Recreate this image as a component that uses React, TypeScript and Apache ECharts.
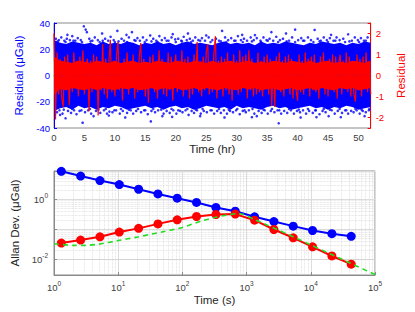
import React, { useEffect, useRef } from "react";
import * as echarts from "echarts";

// ---------- Top panel: residual time series ----------
const redStepHr = 0.25;
const redResidual = [
  2.0, -2.1, 1.1, -0.9, 0.8, -1.0, -1.5, 0.9,
  -0.7, 1.0, -1.4, 0.6, -0.8, 1.1, -0.5, 0.7,
  -1.0, 0.9, -0.6, 1.2, -0.9, 0.5, 0.8, -1.7,
  0.7, -0.8, 1.0, -0.6, 0.9, -1.9, 0.6, -0.7,
  1.5, -0.9, 0.8, -1.1, 0.6, 1.7, -0.8, 0.7,
  -1.0, 0.9, 1.6, -0.7, 0.5, -1.2, 0.8, -0.6,
  1.1, -0.9, 0.7, -0.5, 1.0, -1.1, 0.6, -0.8,
  0.9, 1.55, -0.7, 0.8, -1.0, 0.6, -1.3, 0.9,
  -0.6, 1.0, -0.8, 0.7, -1.1, 1.2, -0.5, 0.8,
  -0.9, 0.6, -1.0, 1.1, -0.7, 0.9, -1.2, 0.5,
  1.0, -0.8, 0.7, -0.6, 1.2, -1.0, 0.8, -0.7,
  0.9, -1.1, 0.6, -0.9, 1.0, -0.6, 1.6, -0.8,
  0.7, -1.0, 0.9, -0.7, 1.1, 1.5, -0.9, 0.6,
  -0.8, 1.0, 1.87, -1.1, 0.7, -0.6, 0.9, -1.0,
  0.8, -0.7, 1.1, -0.9, 0.6, -1.2, 1.0, -0.5,
  0.7, -0.9, 1.2, -0.8, 0.9, -0.6, 1.0, -1.1,
  1.2, -0.7, 0.8, -1.0, 0.6, -0.9, 1.1, -0.8,
  0.7, -1.0, 0.9, -0.6, 1.0, -0.9, 0.8, -1.45,
  0.6, -1.5, 0.9, -0.7, 1.1, -0.8, 0.7, -1.0,
  0.9, -0.6, 1.0, -0.9, 0.8, -1.1, 0.6, -0.7,
  -1.2, 1.0, -0.8, 0.7, -0.9, 1.1, -0.6, 0.8,
  -1.0, 0.9, -0.7, 1.0, -0.8, 0.6, -1.1, 0.9,
  -0.6, 1.1, -0.9, 0.7, -1.0, 0.8, -0.7, 1.0,
  -0.8, 0.9, -1.1, 0.6, 1.0, -0.9, 0.7, -0.6,
  1.1, -0.8, 0.9, -1.0, 0.7, -0.9, -1.25, 1.0,
  -0.7, 0.8, -1.0, 0.9, -0.6, 1.1, -0.8, 0.7,
  -0.9,
];
// dense red core envelope, one value per hour (0..52)
const redCoreUpper = [
  0.9, 0.7, 0.65, 0.6, 0.7, 0.65, 0.6, 0.7, 0.65, 0.6,
  0.7, 0.6, 0.65, 0.7, 0.6, 0.65, 0.6, 0.7, 0.65, 0.6,
  0.7, 0.65, 0.6, 0.7, 0.65, 0.6, 0.7, 0.6, 0.65, 0.7,
  0.6, 0.65, 0.7, 0.6, 0.65, 0.6, 0.7, 0.65, 0.6, 0.7,
  0.65, 0.6, 0.7, 0.6, 0.65, 0.7, 0.6, 0.65, 0.6, 0.7,
  0.65, 0.6, 0.7,
];
const redCoreLower = [
  -0.9, -0.65, -0.7, -0.6, -0.65, -0.7, -0.6, -0.7, -0.6, -0.65,
  -0.7, -0.6, -0.65, -0.6, -0.7, -0.65, -0.6, -0.7, -0.6, -0.65,
  -0.6, -0.7, -0.65, -0.6, -0.7, -0.6, -0.65, -0.7, -0.6, -0.65,
  -0.7, -0.6, -0.65, -0.6, -0.7, -0.65, -0.6, -0.7, -0.65, -0.6,
  -0.7, -0.65, -0.6, -0.7, -0.6, -0.65, -0.7, -0.6, -0.65, -0.6,
  -0.7, -0.65, -0.6,
];

// dense blue core envelope, one value per hour (0..52)
const blueUpper = [
  27, 25, 24, 26, 25, 24, 25, 23, 26, 24,
  25, 24, 26, 25, 23, 25, 24, 26, 24, 25,
  23, 25, 26, 24, 25, 24, 23, 25, 26, 24,
  25, 24, 25, 23, 26, 24, 25, 24, 26, 25,
  24, 23, 25, 24, 26, 25, 24, 25, 23, 25,
  24, 26, 25,
];
const blueLower = [
  -27, -25, -24, -26, -23, -25, -24, -26, -24, -25,
  -23, -24, -26, -25, -24, -23, -25, -24, -26, -24,
  -23, -25, -24, -26, -25, -23, -24, -25, -24, -26,
  -23, -25, -24, -25, -26, -24, -23, -25, -24, -26,
  -25, -24, -23, -25, -24, -26, -24, -25, -23, -24,
  -26, -25, -24,
];

// scattered blue points around the core [hr, µGal]
const blueFringe: [number, number][] = [
  [0.3, 28], [0.8, 27], [1.2, 29], [1.7, 26.5], [2.1, 28], [2.6, 27], [3.0, 30], [3.5, 26.5], [3.9, 28.5], [4.4, 27],
  [5.8, 28], [6.3, 26.5], [6.7, 29], [7.2, 27], [8.4, 28], [8.9, 26.5], [9.3, 29.5], [9.8, 27], [11.1, 28], [11.5, 26.5],
  [12.3, 29], [13.2, 27], [13.7, 28.5], [14.1, 26.5], [14.6, 29], [15.2, 27], [16.3, 28], [16.8, 26.5], [17.3, 30], [17.7, 27],
  [18.2, 28.5], [18.8, 26.5], [19.3, 29], [19.9, 27.5], [20.4, 28], [20.9, 26.5], [21.3, 29.5], [21.8, 27], [22.3, 28], [22.8, 26.5],
  [23.2, 29], [23.7, 27], [24.3, 28.5], [24.8, 26.5], [25.4, 29], [26.0, 27], [26.6, 28], [27.1, 26.5], [28.1, 29], [28.6, 27],
  [29.1, 28.5], [29.6, 26.5], [30.2, 30], [30.7, 27], [31.2, 28], [31.7, 26.5], [32.3, 29], [32.8, 27], [33.3, 28.5], [33.9, 26.5],
  [34.4, 29], [34.9, 27], [35.4, 28], [36.0, 26.5], [36.5, 29.5], [37.1, 27], [37.6, 28], [38.6, 26.5], [39.1, 29], [40.1, 27],
  [40.6, 28.5], [41.1, 26.5], [41.7, 29], [42.2, 27], [43.3, 28], [43.8, 26.5], [44.3, 29], [44.8, 27], [45.3, 28.5], [45.9, 26.5],
  [46.4, 29], [46.9, 27], [47.5, 28], [48.9, 26.5], [49.4, 29], [49.9, 27], [50.4, 28.5], [50.9, 26.5], [51.5, 29],
  [0.5, -28], [0.9, -26.5], [1.4, -29], [2.3, -27], [2.8, -28.5], [3.3, -26.5], [3.7, -29.5], [4.2, -27], [5.1, -28], [5.6, -26.5],
  [6.1, -29], [6.9, -27], [7.6, -28.5], [8.2, -26.5], [8.7, -29], [9.1, -27.5], [9.6, -28], [10.2, -26.5], [10.8, -29], [11.3, -27],
  [12.0, -28.5], [12.6, -26.5], [13.0, -29], [13.5, -27], [14.3, -28], [14.8, -26.5], [15.4, -29.5], [16.0, -27], [16.6, -28], [17.1, -26.5],
  [18.0, -29], [18.5, -27], [19.0, -28.5], [19.6, -26.5], [20.1, -29], [20.7, -27], [21.1, -28], [21.6, -26.5], [22.1, -30], [22.6, -27],
  [23.0, -28.5], [23.5, -26.5], [24.1, -29], [24.6, -27], [25.1, -28], [25.7, -26.5], [26.3, -29], [26.8, -27], [27.4, -28.5], [27.9, -26.5],
  [28.4, -29], [28.9, -27], [29.4, -28], [29.9, -26.5], [30.5, -29.5], [31.0, -27], [31.5, -28], [32.0, -26.5], [32.9, -29], [33.6, -27],
  [34.1, -28.5], [34.6, -26.5], [35.1, -29], [35.6, -27], [36.2, -28], [36.7, -26.5], [37.3, -29], [37.8, -27], [38.3, -28.5], [38.9, -26.5],
  [39.4, -29], [39.9, -27], [40.4, -28], [40.9, -26.5], [41.4, -29], [41.9, -27], [42.5, -28.5], [43.0, -26.5], [43.6, -29.5], [44.1, -27],
  [44.6, -28], [45.6, -26.5], [46.1, -29], [46.6, -27], [47.3, -28.5], [47.8, -26.5], [48.3, -29], [48.8, -27], [49.2, -28], [49.7, -26.5],
  [50.2, -29], [50.7, -27], [51.2, -28], [51.7, -26.5],
];
const blueEdgeDots: [number, number][] = [
  [0.6, 26], [1.9, 25.5], [3.2, 26.5], [4.6, 25.5], [6.0, 26], [7.5, 25.5], [8.0, 26.5], [10.0, 25.5], [10.6, 26], [12.0, 25.5],
  [13.4, 26.5], [14.9, 25.5], [16.0, 26], [17.0, 25.5], [18.5, 26.5], [20.0, 25.5], [21.0, 26], [22.5, 25.5], [24.0, 26.5], [25.7, 25.5],
  [27.4, 26], [28.3, 25.5], [29.8, 26.5], [31.0, 25.5], [32.5, 26], [34.0, 25.5], [35.1, 26.5], [36.8, 25.5], [38.2, 26], [39.6, 25.5],
  [40.9, 26.5], [42.6, 25.5], [43.6, 26], [45.0, 25.5], [46.2, 26.5], [47.8, 25.5], [48.5, 26], [50.1, 25.5], [51.2, 26.5],
  [0.2, -25.5], [1.6, -26], [3.0, -25.5], [4.5, -26.5], [5.9, -25.5], [7.3, -26], [8.5, -25.5], [9.9, -26.5], [11.0, -25.5], [12.3, -26],
  [13.8, -25.5], [15.0, -26.5], [16.3, -25.5], [17.6, -26], [19.3, -25.5], [20.4, -26.5], [21.9, -25.5], [23.3, -26], [24.4, -25.5], [25.9, -26.5],
  [27.1, -25.5], [28.7, -26], [30.1, -25.5], [31.3, -26.5], [32.6, -25.5], [34.4, -26], [35.8, -25.5], [37.0, -26.5], [38.6, -25.5], [40.2, -26],
  [41.7, -25.5], [42.9, -26.5], [44.3, -25.5], [45.3, -26], [46.9, -25.5], [48.0, -26.5], [49.5, -25.5], [50.5, -26], [51.8, -25.5],
];
const blueOutliers: [number, number][] = [
  [4.9, 37.5], [5.2, 35], [5.4, 33], [7.9, 32], [10.4, 34], [11.9, 31], [12.8, 33], [15.8, 30.5], [2.2, 31], [19.5, 31.5],
  [22.0, 32], [25.0, 30.5], [27.6, 34], [30.9, 31], [35.7, 33], [38.1, 32], [39.6, 35], [42.8, 34.7], [45.5, 31], [48.3, 31.4], [33.0, 30.8],
  [4.7, -36], [1.9, -32.6], [1.0, -30], [11.7, -32], [15.9, -35], [17.8, -31], [19.4, -31.5], [6.5, -31], [24.0, -31], [28.0, -32],
  [32.5, -31.8], [33.3, -31], [36.9, -36.4], [43.1, -31.8], [45.1, -31], [47.1, -31.8], [9.0, -30.5], [40.5, -32], [51.0, -31],
];

// ---------- Bottom panel: Allan deviation ----------
const tauSec = [1.3, 2.6, 5.2, 10.4, 20.8, 41.6, 83, 166, 333, 666, 1331, 2662, 5325, 10650, 21300, 42600];
const adevBlue = [8.5, 5.9, 4.17, 3.07, 2.15, 1.5, 1.08, 0.78, 0.53, 0.4, 0.26, 0.18, 0.127, 0.091, 0.071, 0.058];
const adevRed = [0.0347, 0.0437, 0.056, 0.0805, 0.107, 0.151, 0.206, 0.266, 0.31, 0.32, 0.2, 0.098, 0.052, 0.026, 0.0129, 0.0069];
const modelTau = [1, 2, 3, 5, 10, 20, 30, 50, 100, 200, 330, 550, 700, 900, 1300, 2000, 3000, 6000, 10000, 30000, 100000];
const modelAdev = [0.033, 0.029, 0.029, 0.032, 0.042, 0.055, 0.066, 0.083, 0.115, 0.19, 0.25, 0.31, 0.33, 0.31, 0.215, 0.145, 0.098, 0.05, 0.03, 0.0102, 0.0031];

const topHourTicks = [0, 5, 10, 15, 20, 25, 30, 35, 40, 45, 50];

const FONT = "'Liberation Sans', Arial, Helvetica, sans-serif";
const GRAY = "#262626";
const FRAME = "#8a8a8a";

function minorValues(fromExp: number, toExp: number, lo: number, hi: number): number[] {
  const out: number[] = [];
  for (let e = fromExp; e <= toExp; e++) {
    for (let k = 2; k <= 9; k++) {
      const v = k * Math.pow(10, e);
      if (v > lo && v < hi) out.push(v);
    }
  }
  return out;
}

function powLabel(v: number, evenOnly: boolean): string {
  const l = Math.log10(v);
  const e = Math.round(l);
  if (Math.abs(l - e) > 1e-6) return "";
  if (evenOnly && e % 2 !== 0) return "";
  return `{b|10}{s|${e}}`;
}

const powRich = {
  b: { fontSize: 9.5, color: "#404040", fontFamily: FONT },
  s: { fontSize: 6.5, color: "#404040", fontFamily: FONT, padding: [0, 0, 7, 0] },
};

function bandSeries(values: number[], yAxisIndex: number, color: string, step: number) {
  return {
    type: "line", xAxisIndex: 0, yAxisIndex, symbol: "none", silent: true,
    data: values.map((v, i) => [i * step, v]),
    lineStyle: { width: 0 }, areaStyle: { color, opacity: 1 }, itemStyle: { color },
  };
}

export default function App() {
  const ref = useRef<HTMLDivElement>(null);
  useEffect(() => {
    if (!ref.current) return;
    const chart = echarts.init(ref.current, undefined, { renderer: "svg" });

    const xMin = 1, xMax = 100000, yMin = 0.003, yMax = 8.7;
    const minorX = minorValues(0, 4, xMin, xMax).map((v) => ({ xAxis: v }));
    const minorY = minorValues(-3, 0, yMin, yMax).map((v) => ({ yAxis: v }));

    const adevItem = (color: string) => ({ color, borderColor: color, borderWidth: 0, opacity: 1 });

    const option: any = {
      animation: false,
      textStyle: { fontFamily: FONT },
      grid: [
        { left: 54, top: 23, width: 321, height: 105, show: true, borderColor: FRAME, borderWidth: 1, backgroundColor: "#fff" },
        { left: 54, top: 171, width: 321, height: 104, show: true, borderColor: FRAME, borderWidth: 1, backgroundColor: "#fff" },
      ],
      xAxis: [
        {
          gridIndex: 0, type: "value", min: 0, max: 52, interval: 5,
          name: "Time (hr)", nameLocation: "middle", nameGap: 15,
          nameTextStyle: { fontSize: 11.5, color: GRAY, fontFamily: FONT },
          axisLine: { lineStyle: { color: FRAME } },
          axisTick: { inside: true, length: 3, lineStyle: { color: FRAME } },
          axisLabel: {
            fontSize: 9.5, color: "#404040", margin: 4,
            formatter: (v: number) => (topHourTicks.includes(v) ? String(v) : ""),
          },
          splitLine: { show: false },
        },
        {
          gridIndex: 1, type: "log", min: xMin, max: xMax, logBase: 10,
          name: "Time (s)", nameLocation: "middle", nameGap: 19,
          nameTextStyle: { fontSize: 11.5, color: GRAY, fontFamily: FONT },
          axisLine: { lineStyle: { color: FRAME } },
          axisTick: { inside: true, length: 3, lineStyle: { color: FRAME } },
          axisLabel: { margin: 5, formatter: (v: number) => powLabel(v, false), rich: powRich },
          splitLine: { show: true, lineStyle: { color: "#dcdcdc", width: 1 } },
        },
      ],
      yAxis: [
        {
          gridIndex: 0, type: "value", min: -40, max: 40, interval: 20, position: "left",
          name: "Residual (μGal)", nameLocation: "middle", nameGap: 19, nameRotate: 90,
          nameTextStyle: { fontSize: 11.5, color: "#0000ff", fontFamily: FONT },
          axisLine: { show: true, lineStyle: { color: "#0000ff" } },
          axisTick: { show: true, inside: true, length: 3, lineStyle: { color: "#0000ff" } },
          axisLabel: { fontSize: 9.5, color: "#0000ff", margin: 4 },
          splitLine: { show: false },
        },
        {
          gridIndex: 0, type: "value", min: -2.5, max: 2.5, position: "right",
          name: "Residual", nameLocation: "middle", nameGap: 16, nameRotate: 90,
          nameTextStyle: { fontSize: 11.5, color: "#ff0000", fontFamily: FONT },
          axisLine: { show: true, lineStyle: { color: "#ff0000" } },
          axisTick: { show: true, inside: true, length: 3, lineStyle: { color: "#ff0000" } },
          axisLabel: {
            fontSize: 9.5, color: "#ff0000", margin: 5,
            formatter: (v: number) => (Number.isInteger(v) ? String(v) : ""),
          },
          splitLine: { show: false },
        },
        {
          gridIndex: 1, type: "log", min: yMin, max: yMax, logBase: 10,
          name: "Allan Dev. (μGal)", nameLocation: "middle", nameGap: 22, nameRotate: 90,
          nameTextStyle: { fontSize: 11.5, color: GRAY, fontFamily: FONT },
          axisLine: { show: true, lineStyle: { color: FRAME } },
          axisTick: { show: true, inside: true, length: 3, lineStyle: { color: FRAME } },
          axisLabel: { margin: 6, formatter: (v: number) => powLabel(v, true), rich: powRich },
          splitLine: { show: true, lineStyle: { color: "#dcdcdc", width: 1 } },
        },
      ],
      series: [
        bandSeries(blueUpper, 0, "#0000ff", 1),
        bandSeries(blueLower, 0, "#0000ff", 1),
        {
          type: "scatter", xAxisIndex: 0, yAxisIndex: 0, symbol: "circle", symbolSize: 2.6, silent: true,
          data: [...blueEdgeDots, ...blueFringe, ...blueOutliers], itemStyle: { color: "#0000ff" },
        },
        bandSeries(redCoreUpper, 1, "#ff0000", 1),
        bandSeries(redCoreLower, 1, "#ff0000", 1),
        {
          type: "line", xAxisIndex: 0, yAxisIndex: 1, symbol: "none", silent: true,
          data: redResidual.map((v, i) => [i * redStepHr, v]),
          lineStyle: { width: 1.2, color: "#ff0000" }, itemStyle: { color: "#ff0000" },
        },
        {
          type: "line", xAxisIndex: 1, yAxisIndex: 2, symbol: "none", z: 0, silent: true,
          data: [[10, 0.1]], lineStyle: { width: 0, opacity: 0 },
          markLine: {
            z: 0, silent: true, symbol: ["none", "none"], label: { show: false }, animation: false,
            lineStyle: { color: "#d4d4d4", type: "dotted", width: 0.7 },
            data: [...minorX, ...minorY],
          },
        },
        {
          type: "line", xAxisIndex: 1, yAxisIndex: 2, symbol: "circle", symbolSize: 9, showSymbol: true, z: 3,
          data: tauSec.map((t, i) => [t, adevBlue[i]]),
          lineStyle: { width: 2, color: "#0000ff" }, itemStyle: adevItem("#0000ff"),
        },
        {
          type: "line", xAxisIndex: 1, yAxisIndex: 2, symbol: "circle", symbolSize: 9, showSymbol: true, z: 3,
          data: tauSec.map((t, i) => [t, adevRed[i]]),
          lineStyle: { width: 2, color: "#ff0000" }, itemStyle: adevItem("#ff0000"),
        },
        {
          type: "line", xAxisIndex: 1, yAxisIndex: 2, symbol: "none", smooth: 0.25, z: 4,
          data: modelTau.map((t, i) => [t, modelAdev[i]]),
          lineStyle: { width: 1.6, color: "#22dd22", type: [5, 4] }, itemStyle: { color: "#22dd22" },
        },
      ],
    };
    chart.setOption(option);
    return () => chart.dispose();
  }, []);
  return <div ref={ref} style={{ width: 415, height: 312, position: "absolute", left: 0, top: 0 }} />;
}
